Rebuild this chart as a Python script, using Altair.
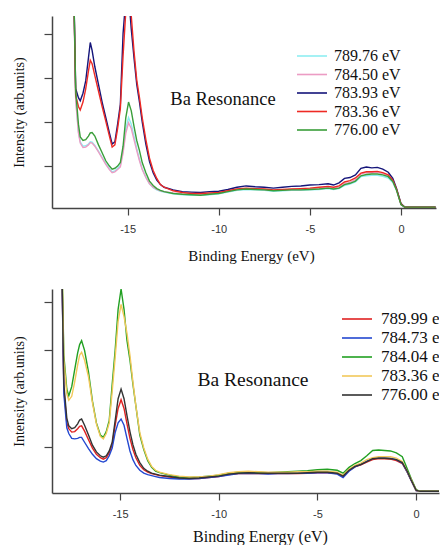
import altair as alt
import pandas as pd

# ---------------- data ----------------
E_TOP = [-18.0, -17.85, -17.7, -17.6, -17.45, -17.3, -17.15, -17.05, -16.95, -16.8,
         -16.6, -16.4, -16.2, -16.0, -15.85, -15.7, -15.55, -15.4, -15.25, -15.1,
         -14.95, -14.8, -14.65, -14.5, -14.35, -14.2, -14.0, -13.8, -13.6, -13.4,
         -13.2, -13.0, -12.5, -12.0, -11.5, -11.0, -10.5, -10.0, -9.5, -9.0,
         -8.5, -8.0, -7.5, -7.0, -6.5, -6.0, -5.5, -5.0, -4.5, -4.0,
         -3.7, -3.4, -3.1, -2.8, -2.5, -2.2, -1.9, -1.6, -1.3, -1.0,
         -0.7, -0.45, -0.25, 0.0, 0.2, 0.5, 1.0, 1.5, 1.9]
E_BOT = list(E_TOP)

TOP_LABELS = ["789.76 eV", "784.50 eV", "783.93 eV", "783.36 eV", "776.00 eV"]
TOP_COLORS = ["#8eeef2", "#ec9cc4", "#15157a", "#ee2a24", "#3a9e3a"]

top_cyan = [6.0, 2.52, 1.78, 1.55, 1.45, 1.46, 1.50, 1.55, 1.54, 1.47,
            1.34, 1.20, 1.06, 0.94, 0.87, 0.89, 0.95, 1.02, 1.38, 1.85,
            2.10, 1.95, 1.68, 1.40, 1.15, 0.94, 0.75, 0.60, 0.51, 0.46,
            0.43, 0.41, 0.37, 0.35, 0.34, 0.34, 0.35, 0.37, 0.41, 0.45,
            0.47, 0.46, 0.45, 0.43, 0.44, 0.45, 0.45, 0.46, 0.47, 0.49,
            0.47, 0.49, 0.56, 0.59, 0.64, 0.76, 0.78, 0.79, 0.79, 0.77,
            0.73, 0.63, 0.45, 0.12, 0.07, 0.07, 0.07, 0.07, 0.07]
top_pink = [6.0, 2.50, 1.75, 1.52, 1.42, 1.43, 1.48, 1.53, 1.52, 1.45,
            1.32, 1.18, 1.04, 0.92, 0.85, 0.87, 0.92, 0.98, 1.30, 1.75,
            1.98, 1.85, 1.60, 1.35, 1.12, 0.92, 0.74, 0.60, 0.52, 0.47,
            0.44, 0.42, 0.39, 0.37, 0.36, 0.36, 0.37, 0.39, 0.43, 0.47,
            0.49, 0.48, 0.47, 0.45, 0.46, 0.47, 0.47, 0.48, 0.50, 0.52,
            0.50, 0.52, 0.60, 0.63, 0.69, 0.82, 0.85, 0.85, 0.86, 0.83,
            0.78, 0.66, 0.47, 0.13, 0.07, 0.07, 0.07, 0.07, 0.07]
top_navy = [6.0, 2.75, 2.55, 2.48, 2.65, 2.93, 3.45, 3.80, 3.62, 3.25,
            2.85, 2.45, 2.10, 1.75, 1.50, 1.55, 1.95, 2.40, 4.00, 4.80,
            4.90, 4.10, 3.45, 2.85, 2.45, 2.00, 1.50, 1.10, 0.85, 0.68,
            0.58, 0.52, 0.46, 0.42, 0.41, 0.40, 0.42, 0.43, 0.47, 0.52,
            0.55, 0.53, 0.52, 0.50, 0.52, 0.54, 0.55, 0.57, 0.58, 0.60,
            0.57, 0.62, 0.72, 0.74, 0.80, 0.95, 0.98, 0.96, 0.97, 0.93,
            0.86, 0.72, 0.50, 0.15, 0.07, 0.07, 0.07, 0.07, 0.07]
top_red = [6.0, 2.60, 2.35, 2.27, 2.45, 2.75, 3.15, 3.40, 3.32, 3.05,
           2.70, 2.35, 2.02, 1.68, 1.43, 1.48, 1.85, 2.30, 3.50, 4.50,
           5.00, 4.40, 3.60, 2.95, 2.55, 2.10, 1.60, 1.18, 0.90, 0.72,
           0.58, 0.52, 0.44, 0.40, 0.38, 0.38, 0.39, 0.40, 0.44, 0.48,
           0.50, 0.49, 0.48, 0.46, 0.47, 0.48, 0.49, 0.50, 0.52, 0.54,
           0.52, 0.55, 0.64, 0.67, 0.73, 0.84, 0.87, 0.87, 0.88, 0.85,
           0.80, 0.68, 0.48, 0.14, 0.07, 0.07, 0.07, 0.07, 0.07]
top_green = [6.0, 2.70, 1.95, 1.66, 1.58, 1.60, 1.68, 1.75, 1.76, 1.68,
             1.48, 1.30, 1.12, 1.00, 0.93, 0.95, 1.00, 1.08, 1.45, 2.10,
             2.45, 2.25, 1.90, 1.58, 1.35, 1.08, 0.85, 0.66, 0.56, 0.49,
             0.45, 0.42, 0.38, 0.36, 0.35, 0.34, 0.36, 0.38, 0.42, 0.46,
             0.48, 0.47, 0.46, 0.44, 0.45, 0.46, 0.46, 0.47, 0.48, 0.50,
             0.48, 0.50, 0.58, 0.61, 0.66, 0.78, 0.81, 0.82, 0.82, 0.80,
             0.76, 0.65, 0.46, 0.13, 0.07, 0.07, 0.07, 0.07, 0.07]

BOT_LABELS = ["789.99 eV", "784.73 eV", "784.04 eV", "783.36 eV", "776.00 eV"]
BOT_COLORS = ["#e02222", "#2448d0", "#22a022", "#f2c85a", "#333333"]

bot_red = [6.0, 2.20, 1.50, 1.38, 1.31, 1.32, 1.38, 1.43, 1.44, 1.33,
           1.15, 0.98, 0.85, 0.78, 0.75, 0.78, 0.88, 1.05, 1.45, 1.80,
           1.98, 1.80, 1.48, 1.18, 0.95, 0.78, 0.62, 0.53, 0.48, 0.45,
           0.43, 0.41, 0.38, 0.36, 0.35, 0.35, 0.37, 0.39, 0.43, 0.45,
           0.46, 0.45, 0.45, 0.45, 0.45, 0.45, 0.46, 0.47, 0.47, 0.45,
           0.40, 0.51, 0.59, 0.63, 0.69, 0.74, 0.76, 0.76, 0.75, 0.72,
           0.66, 0.48, 0.31, 0.10, 0.085, 0.085, 0.085, 0.085, 0.085]
bot_blue = [6.0, 2.10, 1.40, 1.28, 1.18, 1.17, 1.18, 1.20, 1.20, 1.10,
            0.97, 0.85, 0.76, 0.71, 0.69, 0.72, 0.82, 0.98, 1.30, 1.50,
            1.58, 1.45, 1.18, 0.92, 0.74, 0.62, 0.52, 0.46, 0.43, 0.41,
            0.39, 0.37, 0.35, 0.34, 0.34, 0.35, 0.37, 0.39, 0.42, 0.45,
            0.46, 0.45, 0.44, 0.45, 0.45, 0.46, 0.46, 0.47, 0.47, 0.44,
            0.37, 0.50, 0.59, 0.64, 0.71, 0.76, 0.78, 0.78, 0.77, 0.74,
            0.67, 0.48, 0.31, 0.10, 0.085, 0.085, 0.085, 0.085, 0.085]
bot_green = [6.0, 2.90, 2.20, 2.06, 2.25, 2.60, 2.95, 3.12, 3.20, 3.00,
             2.55, 1.95, 1.50, 1.25, 1.20, 1.32, 1.55, 2.30, 3.00, 3.85,
             4.27, 3.85, 3.20, 2.80, 2.30, 1.85, 1.25, 0.95, 0.72, 0.58,
             0.50, 0.47, 0.42, 0.38, 0.37, 0.38, 0.40, 0.42, 0.46, 0.48,
             0.49, 0.48, 0.47, 0.48, 0.49, 0.50, 0.51, 0.53, 0.54, 0.52,
             0.46, 0.58, 0.66, 0.72, 0.82, 0.93, 0.94, 0.93, 0.92, 0.88,
             0.80, 0.55, 0.35, 0.12, 0.085, 0.085, 0.085, 0.085, 0.085]
bot_yellow = [6.0, 2.80, 2.10, 1.97, 2.05, 2.35, 2.70, 2.90, 2.96, 2.80,
              2.45, 1.92, 1.48, 1.22, 1.17, 1.28, 1.50, 2.15, 2.85, 3.60,
              3.95, 3.70, 3.35, 2.90, 2.35, 1.85, 1.30, 0.98, 0.75, 0.60,
              0.52, 0.48, 0.43, 0.40, 0.38, 0.38, 0.40, 0.43, 0.47, 0.49,
              0.50, 0.49, 0.48, 0.48, 0.48, 0.49, 0.49, 0.50, 0.50, 0.48,
              0.42, 0.54, 0.62, 0.67, 0.74, 0.78, 0.80, 0.80, 0.80, 0.77,
              0.70, 0.50, 0.33, 0.11, 0.085, 0.085, 0.085, 0.085, 0.085]
bot_black = [6.0, 2.30, 1.60, 1.44, 1.38, 1.40, 1.48, 1.56, 1.58, 1.45,
             1.25, 1.04, 0.90, 0.82, 0.79, 0.82, 0.92, 1.10, 1.55, 2.00,
             2.20, 2.00, 1.65, 1.32, 1.05, 0.85, 0.68, 0.56, 0.50, 0.46,
             0.44, 0.42, 0.39, 0.36, 0.35, 0.36, 0.38, 0.40, 0.44, 0.46,
             0.47, 0.46, 0.46, 0.46, 0.46, 0.46, 0.47, 0.48, 0.48, 0.46,
             0.40, 0.52, 0.60, 0.64, 0.70, 0.76, 0.77, 0.77, 0.76, 0.74,
             0.68, 0.50, 0.32, 0.11, 0.085, 0.085, 0.085, 0.085, 0.085]

X_TICKS = [-15, -10, -5, 0]
Y_TICKS = [1, 2, 3, 4]
NOTE = "Ba Resonance"

TOP_SERIES = [top_cyan, top_pink, top_navy, top_red, top_green]
BOT_SERIES = [bot_red, bot_blue, bot_green, bot_yellow, bot_black]

SERIF = "Liberation Serif"
SANS = "Liberation Sans"


def long_df(E, labels, series):
    rows = []
    for lab, vals in zip(labels, series):
        assert len(vals) == len(E)
        for e, v in zip(E, vals):
            rows.append({"E": e, "I": v, "series": lab})
    return pd.DataFrame(rows)


def panel(df, labels, colors, xdom, ydom, width, height, sym_x, txt_x,
          leg_range, leg_font, note_x, note_y, note_size, title_x, title_size,
          title_pad):
    color_scale = alt.Scale(domain=labels, range=colors)
    lines = alt.Chart(df).mark_line(clip=True, strokeWidth=1.4).encode(
        x=alt.X("E:Q", scale=alt.Scale(domain=xdom, nice=False, zero=False),
                axis=alt.Axis(values=X_TICKS, title="Binding Energy (eV)",
                              labelExpr="'' + datum.value", tickSize=7,
                              labelPadding=8, titlePadding=title_pad,
                              titleX=title_x, titleFontSize=title_size)),
        y=alt.Y("I:Q", scale=alt.Scale(domain=ydom, nice=False, zero=False),
                axis=alt.Axis(values=Y_TICKS, labels=False, tickSize=8,
                              title="Intensity (arb.units)", titlePadding=17)),
        color=alt.Color("series:N", sort=labels, scale=color_scale, legend=None),
        order=alt.Order("series:N"),
    )
    leg_df = pd.DataFrame({"series": labels})
    leg_y = alt.Y("series:N", sort=labels,
                  scale=alt.Scale(type="point", domain=labels, range=leg_range,
                                  padding=0),
                  axis=None)
    sym = alt.Chart(leg_df).mark_rule(strokeWidth=1.6).encode(
        x=alt.value(sym_x), x2=alt.value(sym_x + 30), y=leg_y,
        color=alt.Color("series:N", sort=labels, scale=color_scale, legend=None))
    txt = alt.Chart(leg_df).mark_text(
        clip=True, align="left", baseline="middle", font=SERIF,
        fontSize=leg_font, color="#111").encode(
        x=alt.value(txt_x), y=leg_y, text="series:N")
    note = alt.Chart(pd.DataFrame({"t": [NOTE]})).mark_text(
        font=SERIF, fontSize=note_size, color="#111", align="center",
        baseline="middle").encode(x=alt.value(note_x), y=alt.value(note_y),
                                  text="t:N")
    return alt.layer(lines, sym, txt, note).resolve_scale(
        y="independent").properties(width=width, height=height)


top = panel(long_df(E_TOP, TOP_LABELS, TOP_SERIES), TOP_LABELS, TOP_COLORS,
            [-19.15, 1.92], [0.05, 4.4], 384, 192, 245, 282, [40, 114], 16,
            171, 83, 18.5, 199, 15, 14)
bot = panel(long_df(E_BOT, BOT_LABELS, BOT_SERIES), BOT_LABELS, BOT_COLORS,
            [-18.45, 1.16], [0.05, 4.27], 387, 204, 290, 329, [30, 106], 17,
            201, 91, 19.5, 208, 16, 9)

chart = alt.vconcat(top, bot, spacing=24).resolve_scale(
    color="independent", x="independent", y="independent"
).properties(
    padding={"left": 3, "top": 7, "right": 0, "bottom": 0}
).configure(background="white").configure_view(
    stroke="transparent"
).configure_axis(
    grid=False, domainColor="#444", domainWidth=1.5, tickColor="#444",
    tickWidth=1.2, labelFont=SANS, labelFontSize=11, labelColor="#333",
    titleFont=SERIF, titleFontSize=14, titleFontWeight="normal",
    titleColor="#111"
)

chart.save("out.html", embed_options={"renderer": "svg", "actions": False})
